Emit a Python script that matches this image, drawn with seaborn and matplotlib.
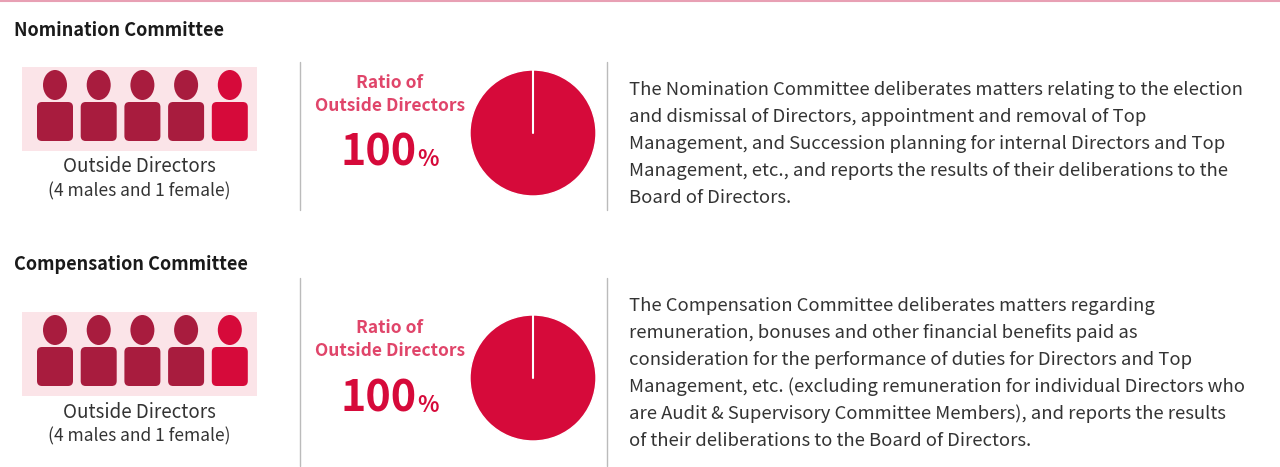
import matplotlib
matplotlib.use("Agg")
import matplotlib.pyplot as plt
import seaborn as sns
from matplotlib.patches import FancyBboxPatch, Ellipse, Rectangle

sns.set_theme(style="white")
plt.rcParams['font.family'] = ['Noto Sans CJK JP', 'DejaVu Sans']

committees = ["Nomination Committee", "Compensation Committee"]
ratios = [100, 100]
males = [4, 4]
females = [1, 1]
descriptions = [
    ["The Nomination Committee deliberates matters relating to the election",
     "and dismissal of Directors, appointment and removal of Top",
     "Management, and Succession planning for internal Directors and Top",
     "Management, etc., and reports the results of their deliberations to the",
     "Board of Directors."],
    ["The Compensation Committee deliberates matters regarding",
     "remuneration, bonuses and other financial benefits paid as",
     "consideration for the performance of duties for Directors and Top",
     "Management, etc. (excluding remuneration for individual Directors who",
     "are Audit & Supervisory Committee Members), and reports the results",
     "of their deliberations to the Board of Directors."],
]

W, H = 1280, 467
MALE, FEMALE, PINK = "#a81c3e", "#d60a3a", "#e0456a"
fig = plt.figure(figsize=(12.8, 4.67), dpi=100)
ax = fig.add_axes([0, 0, 1, 1])
ax.set_xlim(0, W); ax.set_ylim(H, 0); ax.axis("off")
ax.plot([0, W], [1, 1], color="#e8a0b4", lw=1.5)

offsets = [0, 245]
desc_y = [90, 306]
vl = [(62, 210), (278, 466)]
for i, name in enumerate(committees):
    o = offsets[i]
    ax.text(14, 30 + o - (11 if i else 0), name, fontsize=13, fontweight="bold", va="center", color="#1a1a1a")
    ax.add_patch(Rectangle((22, 67 + o), 235, 84, color="#fbe4e8", lw=0))
    n = males[i] + females[i]
    for k in range(n):
        cx = 55 + k * 43.7
        c = MALE if k < males[i] else FEMALE
        ax.add_patch(Ellipse((cx, 85 + o), 24, 30, color=c, lw=0))
        ax.add_patch(FancyBboxPatch((cx - 16, 104 + o), 32, 35, boxstyle="round,pad=2,rounding_size=5", color=c, lw=0))
    ax.text(139, 167 + o, "Outside Directors", fontsize=13.5, ha="center", va="center", color="#333333")
    ax.text(139, 191 + o, f"(4 males and {females[i]} female)", fontsize=12.5, ha="center", va="center", color="#333333")
    y0, y1 = vl[i]
    ax.plot([300, 300], [y0, y1], color="#bbbbbb", lw=1)
    ax.plot([607, 607], [y0, y1], color="#bbbbbb", lw=1)
    ax.text(390, 83 + o, "Ratio of", fontsize=12.5, fontweight="bold", ha="center", va="center", color=PINK)
    ax.text(390, 106 + o, "Outside Directors", fontsize=12.5, fontweight="bold", ha="center", va="center", color=PINK)
    ax.text(417, 153 + o, f"{ratios[i]}", fontsize=31, fontweight="bold", ha="right", va="center", color=FEMALE)
    ax.text(417, 160 + o, "%", fontsize=16, fontweight="bold", ha="left", va="center", color=FEMALE)
    for j, line in enumerate(descriptions[i]):
        ax.text(629, desc_y[i] + j * 27, line, fontsize=13.3, va="center", color="#333333")
    cy = 133 + o
    r = 63
    pax = fig.add_axes([(533 - r) / W, 1 - (cy + r) / H, 2 * r / W, 2 * r / H])
    pax.pie([ratios[i], 100 - ratios[i]], colors=[FEMALE, "white"], startangle=90,
            counterclock=False, radius=1)
    pax.set_xlim(-1, 1); pax.set_ylim(-1, 1)
    pax.plot([0, 0], [0, 1], color="white", lw=1.5)
    pax.set_aspect("auto")

fig.savefig("out.png", dpi=100)
